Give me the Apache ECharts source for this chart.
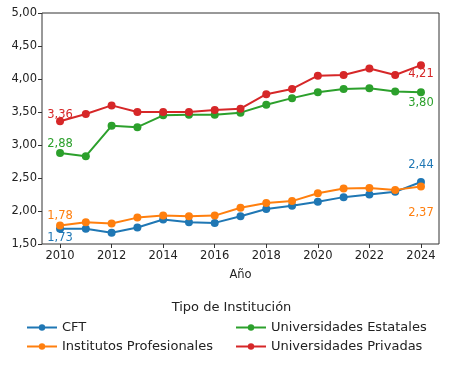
<!DOCTYPE html>
<html><head><meta charset="utf-8">
<script src="https://cdn.jsdelivr.net/npm/echarts@6/dist/echarts.min.js"></script>
<style>html,body{margin:0;padding:0;background:#fff}#c{width:463px;height:367px}</style>
</head><body><div id="c"></div>
<script>
const years = [2010,2011,2012,2013,2014,2015,2016,2017,2018,2019,2020,2021,2022,2023,2024];
const cft = [1.73,1.73,1.67,1.75,1.87,1.83,1.82,1.92,2.03,2.08,2.14,2.21,2.25,2.29,2.44];
const institutos = [1.78,1.83,1.81,1.90,1.93,1.92,1.93,2.05,2.12,2.15,2.27,2.34,2.35,2.32,2.37];
const estatales = [2.88,2.83,3.29,3.27,3.45,3.46,3.46,3.49,3.61,3.71,3.80,3.85,3.86,3.81,3.80];
const privadas = [3.36,3.47,3.60,3.50,3.50,3.50,3.53,3.55,3.77,3.85,4.05,4.06,4.16,4.06,4.21];
const seriesNames = ['CFT','Institutos Profesionales','Universidades Estatales','Universidades Privadas'];
const colors = ['#1f77b4','#ff7f0e','#2ca02c','#d62728'];
const yTicks = [1.5,2.0,2.5,3.0,3.5,4.0,4.5,5.0];
const xTicks = [2010,2012,2014,2016,2018,2020,2022,2024];

const FONT = 'DejaVu Sans';
const fmt = v => v.toFixed(2).replace('.', ',');
// label offsets [first, last]
const offs = [
  [[0, 9],[0,-17]],
  [[0,-10],[0,26]],
  [[0,-9],[0,11]],
  [[0,-6],[0,9]]
];
const allVals = [cft, institutos, estatales, privadas];
function mkSeries(i){
  const vals = allVals[i];
  return {
    name: seriesNames[i], type:'line', color: colors[i],
    symbol:'circle', symbolSize:8, lineStyle:{width:2},
    z: 2+i,
    data: vals.map((v,k)=>{
      const item = {value:[years[k], v]};
      if(k===0 || k===vals.length-1){
        const o = offs[i][k===0?0:1];
        item.label = {show:true, position:'inside', offset:o, formatter: fmt(v),
          color: colors[i], fontFamily: FONT, fontSize: 11.5};
      }
      return item;
    })
  };
}
const chart = echarts.init(document.getElementById('c'), null, {renderer:'canvas'});
chart.setOption({
  animation:false,
  textStyle:{fontFamily:FONT},
  grid:{left:42, right:24, top:13, bottom:123, show:true, borderColor:'#333', borderWidth:1, backgroundColor:'transparent'},
  xAxis:{type:'value', min:2009.3, max:2024.7, name:'Año', nameLocation:'middle', nameGap:25,
    nameTextStyle:{fontFamily:FONT, fontSize:11.5, color:'#222'},
    axisLine:{show:false}, splitLine:{show:false},
    axisTick:{show:true, customValues:xTicks, length:4, lineStyle:{color:'#333'}},
    axisLabel:{customValues:xTicks, fontFamily:FONT, fontSize:11.5, color:'#222', margin:6, formatter:v=>String(v)}},
  yAxis:{type:'value', min:1.5, max:5.0, interval:0.5,
    axisLine:{show:false}, splitLine:{show:false},
    axisTick:{show:true, length:4, lineStyle:{color:'#333'}},
    axisLabel:{fontFamily:FONT, fontSize:11.5, color:'#222', margin:5, formatter:v=>fmt(v)}},
  title:{text:'Tipo de Institución', left:'center', top:296, textStyle:{fontFamily:FONT, fontSize:13, fontWeight:'normal', color:'#222'}},
  legend:[
    {data:[seriesNames[0],seriesNames[1]], orient:'vertical', left:21, top:316, itemWidth:30, itemHeight:8, itemGap:6,
      textStyle:{fontFamily:FONT, fontSize:13, color:'#222'}},
    {data:[seriesNames[2],seriesNames[3]], orient:'vertical', left:230, top:316, itemWidth:30, itemHeight:8, itemGap:6,
      textStyle:{fontFamily:FONT, fontSize:13, color:'#222'}}
  ],
  series:[0,1,2,3].map(mkSeries)
});
</script></body></html>
